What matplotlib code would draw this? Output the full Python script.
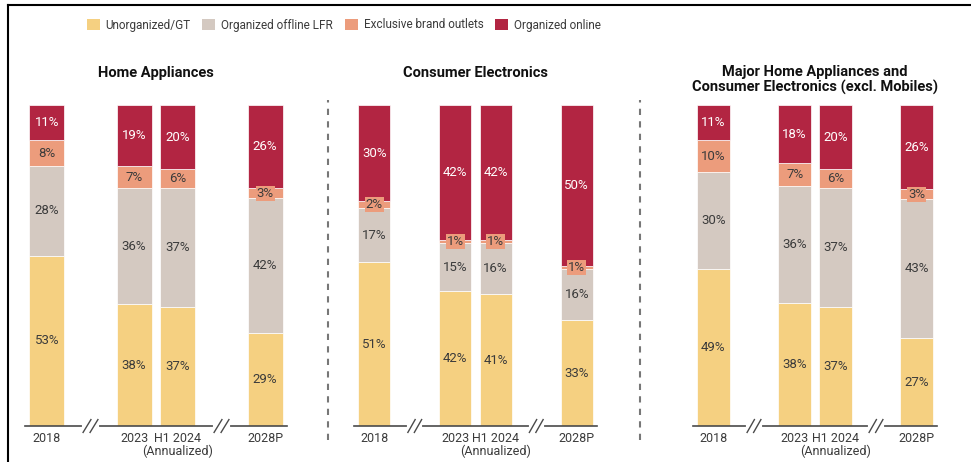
import numpy as np
import matplotlib
matplotlib.use("Agg")
import matplotlib.pyplot as plt
from matplotlib.lines import Line2D
from matplotlib.patches import Patch

plt.rcParams['font.family'] = ['Roboto', 'DejaVu Sans']

# ----------------------------------------------------------
# data
# ----------------------------------------------------------
periods = ["2018", "2023", "H1 2024", "2028P"]
period_note = "(Annualized)"
segments = ["Unorganized/GT", "Organized offline LFR", "Exclusive brand outlets", "Organized online"]
colors = ["#F5D081", "#D4C9C1", "#EC9C7C", "#B22542"]

titles = ["Home Appliances",
          "Consumer Electronics",
          "Major Home Appliances and\nConsumer Electronics (excl. Mobiles)"]

# shares per panel, one list per segment (2018, 2023, H1 2024, 2028P)
home_unorg = [53, 38, 37, 29]
home_lfr = [28, 36, 37, 42]
home_ebo = [8, 7, 6, 3]
home_online = [11, 19, 20, 26]

ce_unorg = [51, 42, 41, 33]
ce_lfr = [17, 15, 16, 16]
ce_ebo = [2, 1, 1, 1]
ce_online = [30, 42, 42, 50]

major_unorg = [49, 38, 37, 27]
major_lfr = [30, 36, 37, 43]
major_ebo = [10, 7, 6, 3]
major_online = [11, 18, 20, 26]

panels = [
    [home_unorg, home_lfr, home_ebo, home_online],
    [ce_unorg, ce_lfr, ce_ebo, ce_online],
    [major_unorg, major_lfr, major_ebo, major_online],
]

xpos = [0, 2, 3, 5]

# ----------------------------------------------------------
# figure
# ----------------------------------------------------------
W, H = 971, 462
fig = plt.figure(figsize=(W / 100, H / 100), dpi=100)

# axis spans in pixels (left, right)
spans = [(25, 287), (354, 597), (693, 937)]
bottom_px, top_px = 426, 105

for i, (l, r) in enumerate(spans):
    ax = fig.add_axes([l / W, (H - bottom_px) / H, (r - l) / W, (bottom_px - top_px) / H])
    data = np.array(panels[i], dtype=float)
    total = data.sum(axis=0)
    base = np.zeros(4)
    for k in range(4):
        h = data[k] / total * 100
        ax.bar(xpos, h, bottom=base, width=0.8, color=colors[k],
               edgecolor="white", linewidth=0.5, zorder=2)
        for j in range(4):
            val = int(data[k][j])
            yc = base[j] + h[j] / 2
            tc = "white" if k == 3 else "#3b3b3b"
            if val <= 3:
                ax.text(xpos[j], yc, f"{val}%", ha="center", va="center",
                        fontsize=9.5, color=tc, zorder=4,
                        bbox=dict(boxstyle="square,pad=0.08", fc=colors[2], ec="none"))
            else:
                ax.text(xpos[j], yc, f"{val}%", ha="center", va="center",
                        fontsize=9.5, color=tc, zorder=4)
        base += h

    ax.set_xlim(-0.5, 5.5)
    ax.set_ylim(0, 100)
    for s in ["top", "right", "left"]:
        ax.spines[s].set_visible(False)
    ax.spines["bottom"].set_color("#4a4a4a")
    ax.spines["bottom"].set_linewidth(1.2)
    ax.set_yticks([])
    ax.set_xticks(xpos)
    ax.set_xticklabels(periods, fontsize=9, color="#3b3b3b")
    ax.tick_params(axis="x", length=0, pad=4)
    ax.text(xpos[2], -7.8, period_note, ha="center", va="center",
            fontsize=9, color="#3b3b3b", transform=ax.transData, clip_on=False)

    # axis break marks
    for xb in [1, 4]:
        ax.plot([xb - 0.14, xb + 0.14], [0, 0], color="white", lw=3,
                clip_on=False, zorder=5)
        for dx in [-0.08, 0.08]:
            ax.plot([xb + dx - 0.09, xb + dx + 0.09], [-2.0, 2.0], color="#4a4a4a",
                    lw=1, clip_on=False, zorder=6)

    cx = (l + r) / 2 / W
    fig.text(cx, (H - 73) / H if i < 2 else (H - 80) / H, titles[i],
             ha="center", va="center", fontsize=10.5, fontweight="bold",
             color="#111111", linespacing=1.15)

# dashed separators
for xs in [328, 640]:
    fig.add_artist(Line2D([xs / W, xs / W], [(H - 440) / H, (H - 100) / H],
                          color="#777777", lw=1.5, linestyle=(0, (3, 3))))

# screenshot frame (left and top)
fig.add_artist(Line2D([8 / W, 8 / W], [0, (H - 5) / H], color="black", lw=1.5))
fig.add_artist(Line2D([8 / W, 1], [(H - 5) / H, (H - 5) / H], color="black", lw=1.5))

# legend
handles = [Patch(facecolor=c, edgecolor="none") for c in colors]
fig.legend(handles, segments, loc="center left", bbox_to_anchor=(76 / W, (H - 25) / H),
           ncol=4, frameon=False, fontsize=8.5, handlelength=1.1, handleheight=1.1,
           handletextpad=0.5, columnspacing=1.0, labelcolor="#3b3b3b")

fig.savefig("out.png", dpi=100)
